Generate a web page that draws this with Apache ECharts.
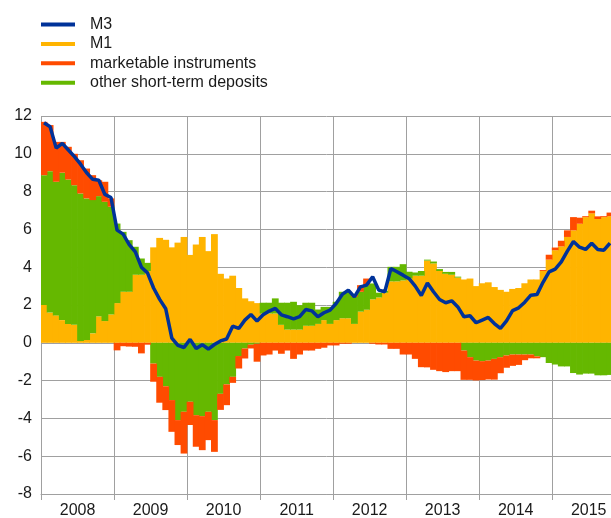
<!DOCTYPE html>
<html><head><meta charset="utf-8">
<script src="https://cdn.jsdelivr.net/npm/echarts@6/dist/echarts.min.js"></script>
<style>html,body{margin:0;padding:0;background:#fff}#c{width:611px;height:518px}</style>
</head><body><div id="c"></div>
<script>
const years = ['2008','2009','2010','2011','2012','2013','2014','2015'];
const monthsInLastYear = 10;
const yTicks = {min: -8, max: 12, interval: 2};

const m1 = [2.0,1.6,1.45,1.2,1.0,0.95,0.1,0.15,0.5,1.4,1.15,1.5,
2.1,2.7,2.7,3.6,3.6,3.8,5.05,5.55,5.45,5.05,5.3,5.6,
4.65,5.2,5.6,4.85,5.75,3.65,3.4,3.55,2.9,2.35,2.2,2.1,
1.55,1.55,1.55,0.95,0.7,0.7,0.7,0.9,0.9,1.0,1.2,1.0,
1.2,1.3,1.3,1.0,1.65,1.75,2.3,2.4,2.65,3.25,3.25,3.3,
3.4,3.55,3.55,4.35,4.2,3.8,3.65,3.6,3.45,3.35,3.4,3.0,
3.15,3.2,2.95,2.8,2.7,2.85,2.9,3.15,3.35,3.35,3.8,4.4,
4.9,5.1,5.6,5.95,6.3,6.65,6.85,6.55,6.65,6.7];

const otherDeposits = [6.87,7.48,7.07,7.8,7.64,7.39,7.8,7.49,7.05,6.36,6.31,5.7,
4.21,3.17,2.73,1.48,0.86,0.43,-1.1,-1.8,-2.3,-3.03,-4.09,-3.65,
-3.12,-3.83,-3.88,-3.65,-4.09,-2.7,-2.2,-1.8,-0.7,-0.3,-0.1,-0.05,
0.57,0.57,0.8,1.17,1.42,1.47,1.29,1.22,1.22,0.76,0.7,0.9,
0.97,1.4,1.4,1.43,1.05,1.3,0.84,0.25,0.1,0.77,0.77,0.86,
0.36,0.17,0.25,0.05,0.1,0.1,0.1,0.15,0.05,-0.41,-0.76,-0.94,
-0.97,-0.94,-0.85,-0.76,-0.67,-0.62,-0.62,-0.62,-0.62,-0.72,-0.76,-1.07,
-1.15,-1.25,-1.25,-1.6,-1.68,-1.63,-1.63,-1.72,-1.72,-1.7];

const marketable = [2.82,2.44,2.11,1.63,1.73,1.66,1.76,1.58,1.32,0.84,1.06,0.44,
-0.4,-0.18,-0.2,-0.21,-0.56,-0.1,-0.96,-1.37,-1.26,-1.68,-1.32,-2.21,
-1.23,-1.67,-1.8,-1.5,-1.68,-0.85,-1.1,-0.32,-0.66,-0.53,-0.2,-0.95,
-0.67,-0.62,-0.41,-0.58,-0.41,-0.85,-0.62,-0.41,-0.41,-0.32,-0.26,-0.14,
-0.14,-0.05,-0.05,0.15,0.35,0.35,-0.05,-0.09,-0.09,-0.32,-0.32,-0.62,
-0.62,-0.85,-1.29,-1.3,-1.43,-1.5,-1.55,-1.5,-1.5,-1.55,-1.2,-1.05,
-1.0,-1.0,-1.1,-0.85,-0.65,-0.6,-0.55,-0.3,-0.2,-0.1,0.05,0.26,
0.14,0.3,0.35,0.7,0.32,0.05,0.14,0.14,0.05,0.19];

const m3 = [11.64,11.43,10.3,10.55,10.2,9.85,9.45,9.0,8.65,8.6,7.85,7.69,
5.96,5.75,5.2,4.81,4.0,3.7,2.9,2.3,1.8,0.25,-0.14,-0.25,
0.18,-0.3,-0.1,-0.33,-0.09,0.1,0.2,0.88,0.76,1.2,1.5,1.15,
1.48,1.68,1.82,1.48,1.38,1.27,1.38,1.76,1.69,1.38,1.59,1.73,
2.08,2.56,2.79,2.43,2.96,3.05,3.49,2.79,2.7,3.93,3.76,3.58,
3.39,3.0,2.5,3.17,2.7,2.29,2.12,2.22,1.9,1.38,1.43,1.06,
1.2,1.34,1.02,0.76,1.16,1.7,1.85,2.15,2.52,2.55,3.2,3.75,
3.9,4.28,4.85,5.36,5.06,4.94,5.27,4.94,4.9,5.27];

const categories = [];
years.forEach((y, yi) => {
  const n = yi === years.length - 1 ? monthsInLastYear : 12;
  for (let m = 1; m <= n; m++) categories.push(y + '-' + (m < 10 ? '0' + m : m));
});

const C = {m3: '#003299', m1: '#FFB400', mk: '#FF4B00', ot: '#65B800'};
const gridColor = '#a0a0a0';
const font = "'Liberation Sans', Arial, sans-serif";
const BW = 6.8;

const chart = echarts.init(document.getElementById('c'), null, {renderer: 'canvas'});
chart.setOption({
  animation: false,
  backgroundColor: '#fff',
  textStyle: {fontFamily: font},
  legend: {
    orient: 'vertical', left: 41, top: 15, padding: 0, itemGap: 0.4,
    itemWidth: 34, itemHeight: 4, icon: 'rect',
    textStyle: {fontSize: 16, color: '#1a1a1a', fontFamily: font, lineHeight: 19, padding: [0, 0, 0, 10]},
    data: ['M3', 'M1', 'marketable instruments', 'other short-term deposits']
  },
  grid: {left: 41, right: -2, top: 116, bottom: 24, containLabel: false, outerBoundsMode: 'none'},
  xAxis: {
    type: 'category', data: categories, boundaryGap: true,
    axisLine: {show: true, onZero: false, lineStyle: {color: gridColor, width: 1}},
    axisTick: {show: true, length: 6, interval: (i) => i % 12 === 0, lineStyle: {color: gridColor}},
    splitLine: {show: true, interval: (i) => i % 12 === 0, lineStyle: {color: gridColor, width: 1}},
    axisLabel: {
      interval: (i) => i % 12 === 6, margin: 9, fontSize: 16, color: '#1a1a1a', fontFamily: font,
      padding: [0, 6, 0, 0],
      formatter: (v) => v.slice(0, 4)
    }
  },
  yAxis: {
    type: 'value', min: yTicks.min, max: yTicks.max, interval: yTicks.interval,
    axisLine: {show: false}, axisTick: {show: false},
    splitLine: {show: true, lineStyle: {color: gridColor, width: 1}},
    axisLabel: {margin: 9, fontSize: 16, color: '#1a1a1a', fontFamily: font, padding: [2, 0, 0, 0]}
  },
  series: [
    {name: 'M1', type: 'bar', stack: 'a', data: m1, barWidth: BW, barGap: '-100%',
     itemStyle: {color: C.m1}},
    {name: 'other short-term deposits', type: 'bar', stack: 'a', data: otherDeposits, barWidth: BW,
     itemStyle: {color: C.ot}},
    {name: 'marketable instruments', type: 'bar', stack: 'a', data: marketable, barWidth: BW,
     itemStyle: {color: C.mk}},
    {name: 'M3', type: 'line', data: m3, symbol: 'none', z: 10,
     lineStyle: {color: C.m3, width: 3.5}, itemStyle: {color: C.m3}}
  ]
});
</script></body></html>
